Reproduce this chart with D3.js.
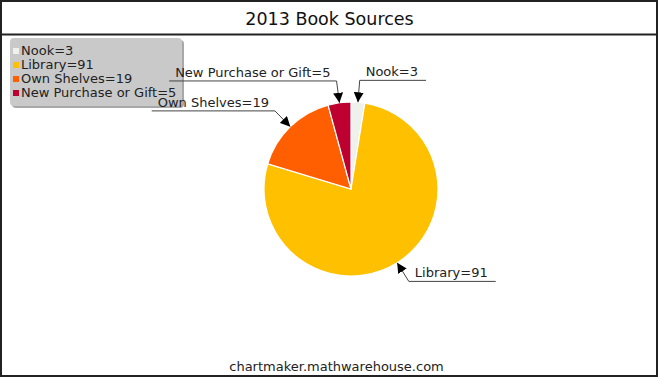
<!DOCTYPE html>
<html>
<head>
<meta charset="utf-8">
<script src="https://cdn.jsdelivr.net/npm/d3@7"></script>
<style>
  html, body { margin: 0; padding: 0; background: #fff; }
  svg { display: block; font-family: "DejaVu Sans", Verdana, sans-serif; }
</style>
</head>
<body>
<svg id="chart" width="659" height="378"></svg>
<script>
// Book sources for 2013
const categories = ["Nook", "Library", "Own Shelves", "New Purchase or Gift"];
const values = [3, 91, 19, 5];
const colors = ["#eff1ec", "#ffc000", "#ff5f00", "#bd0030"];
const title = "2013 Book Sources";
const footer = "chartmaker.mathwarehouse.com";

const W = 659, H = 378;
const svg = d3.select("#chart");

// Frame and title bar
svg.append("rect").attr("x", 1).attr("y", 1).attr("width", W - 3).attr("height", H - 3)
  .attr("fill", "#fff").attr("stroke", "#222").attr("stroke-width", 2);
svg.append("line").attr("x1", 1).attr("x2", W - 2).attr("y1", 34.5).attr("y2", 34.5)
  .attr("stroke", "#222").attr("stroke-width", 2);
svg.append("text").attr("x", W / 2).attr("y", 25).attr("text-anchor", "middle")
  .attr("font-size", 17.5).attr("fill", "#111").text(title);
svg.append("text").attr("x", W / 2 + 7).attr("y", 371).attr("text-anchor", "middle")
  .attr("font-size", 13).attr("fill", "#222").text(footer);

// Pie
const cx = 351, cy = 189, r = 87;
const data = categories.map((c, i) => ({ name: c, value: values[i], color: colors[i] }));
const pie = d3.pie().value(d => d.value).sort(null);
const arcs = pie(data);
const arc = d3.arc().innerRadius(0).outerRadius(r);

const g = svg.append("g").attr("transform", `translate(${cx},${cy})`);
g.selectAll("path").data(arcs).join("path")
  .attr("d", arc)
  .attr("fill", d => d.data.color)
  .attr("stroke", "#fff").attr("stroke-width", 1.2);

// Legend
const lg = svg.append("g").attr("transform", "translate(10,38)");
lg.append("rect").attr("x", 2).attr("y", 2).attr("width", 172).attr("height", 68).attr("rx", 4)
  .attr("fill", "#a8a8a8");
lg.append("rect").attr("x", 0).attr("y", 0).attr("width", 172).attr("height", 68).attr("rx", 4)
  .attr("fill", "#c9c9c9");
data.forEach((d, i) => {
  const y = 17 + i * 14;
  lg.append("rect").attr("x", 3).attr("y", y - 7).attr("width", 6).attr("height", 6)
    .attr("fill", d.color);
  lg.append("text").attr("x", 11).attr("y", y).attr("font-size", 13).attr("fill", "#222")
    .text(`${d.name}=${d.value}`);
});

// Callout labels with arrows
const defs = svg.append("defs");
defs.append("marker").attr("id", "arrow")
  .attr("viewBox", "0 0 10 10").attr("refX", 10).attr("refY", 5)
  .attr("markerWidth", 10).attr("markerHeight", 10).attr("markerUnits", "userSpaceOnUse")
  .attr("orient", "auto")
  .append("path").attr("d", "M0,0 L10,5 L0,10 Z").attr("fill", "#000");

const elbowOut = 22;
const labels = svg.append("g").attr("font-size", 13).attr("fill", "#222");
arcs.forEach(a => {
  const mid = (a.startAngle + a.endAngle) / 2;
  const tip = [cx + r * Math.sin(mid), cy - r * Math.cos(mid)];
  const elb = [cx + (r + elbowOut) * Math.sin(mid), cy - (r + elbowOut) * Math.cos(mid)];
  const right = Math.sin(mid) >= 0;
  const txt = labels.append("text")
    .attr("y", elb[1] - 4)
    .attr("text-anchor", right ? "start" : "end")
    .attr("x", right ? elb[0] + 6 : elb[0] - 6)
    .text(`${a.data.name}=${a.data.value}`);
  const tw = txt.node().getComputedTextLength();
  const endX = right ? elb[0] + tw + 14 : elb[0] - tw - 12;
  labels.append("path")
    .attr("d", `M${endX},${elb[1]} L${elb[0]},${elb[1]} L${tip[0]},${tip[1]}`)
    .attr("fill", "none").attr("stroke", "#444").attr("stroke-width", 1)
    .attr("marker-end", "url(#arrow)");
});
</script>
</body>
</html>
